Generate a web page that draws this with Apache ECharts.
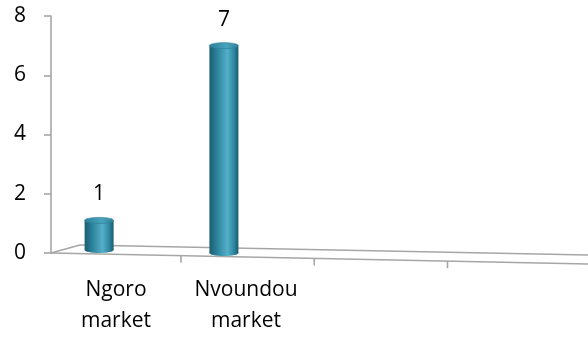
<!DOCTYPE html>
<html><head><meta charset="utf-8">
<script src="https://cdn.jsdelivr.net/npm/echarts@6/dist/echarts.min.js"></script>
<style>html,body{margin:0;padding:0;background:#fff}#c{width:588px;height:338px}</style>
</head><body><div id="c"></div>
<script>
const categories = ['Ngoro\nmarket', 'Nvoundou\nmarket', '', ''];
const values = [1, 7, null, null];
const yTicks = [0, 2, 4, 6, 8];

const FONT = '"Open Sans", "Noto Sans", sans-serif';
const chart = echarts.init(document.getElementById('c'), null, {renderer: 'canvas'});

function cylinder(params, api) {
  const v = api.value(1);
  if (v == null || isNaN(v)) return;
  const idx = api.value(0);
  const band = api.size([1, 0])[0];
  const top = api.coord([idx, v]);
  const base = api.coord([idx, 0]);
  const cx = top[0] - band * (idx === 0 ? 0.13 : 0.17);
  const bw = 29, ry = 3;
  const lift = idx === 0 ? 3 : 0;
  const baseY = base[1] - lift;
  const topY = top[1] - lift;
  const grad = new echarts.graphic.LinearGradient(0, 0, 1, 0, [
    {offset: 0, color: '#1a5d70'},
    {offset: 0.25, color: '#2a8099'},
    {offset: 0.62, color: '#55afc8'},
    {offset: 0.85, color: '#2e86a0'},
    {offset: 1, color: '#1a5b6e'}
  ]);
  return {
    type: 'group',
    children: [
      {type: 'ellipse', shape: {cx: cx, cy: baseY, rx: bw / 2, ry: ry}, style: {fill: grad}},
      {type: 'rect', shape: {x: cx - bw / 2, y: topY, width: bw, height: baseY - topY}, style: {fill: grad}},
      {type: 'ellipse', shape: {cx: cx, cy: topY, rx: bw / 2, ry: ry},
        style: {fill: new echarts.graphic.LinearGradient(0, 0, 1, 0, [
          {offset: 0, color: '#2a7f97'}, {offset: 0.6, color: '#4aa3bc'}, {offset: 1, color: '#2d8199'}]),
          stroke: '#2b7c93', lineWidth: 0.6}},
      {type: 'text', style: {text: String(v), x: cx, y: topY - 26, align: 'center', verticalAlign: 'middle',
        font: '21px ' + FONT, fill: '#000'}}
    ]
  };
}

function floor(params, api) {
  const cs = params.coordSys;
  const band = api.size([1, 0])[0];
  const o = api.coord([0, 0]);
  const x0 = cs.x, y0 = o[1], x1 = chart.getWidth();
  const slope = 11 / 536, backSlope = 10 / 508;
  const frontY = x => y0 + (x - x0) * slope;
  const bx0 = x0 + 29, by0 = y0 - 8;
  const backY = x => by0 + (x - bx0) * backSlope;
  const stroke = {stroke: '#a6a6a6', lineWidth: 1.6};
  const children = [
    {type: 'line', shape: {x1: x0, y1: y0, x2: x1, y2: frontY(x1)}, style: stroke},
    {type: 'line', shape: {x1: bx0, y1: by0, x2: x1, y2: backY(x1)}, style: stroke},
    {type: 'line', shape: {x1: x0, y1: y0, x2: bx0, y2: by0}, style: stroke}
  ];
  for (let i = 0; i < categories.length - 1; i++) {
    const c = api.coord([i, 0])[0] + band / 2 * (1 + i * 0.05);
    children.push({type: 'line', shape: {x1: c, y1: frontY(c), x2: c, y2: frontY(c) + 7}, style: stroke});
  }
  return {type: 'group', children: children, silent: true};
}

chart.setOption({
  animation: false,
  grid: {left: 51, right: 17, top: 16, bottom: 85, containLabel: false},
  xAxis: {
    type: 'category', data: categories,
    axisLine: {show: false}, axisTick: {show: false},
    axisLabel: {interval: 0, margin: 22, color: '#000', fontSize: 21, fontFamily: FONT, lineHeight: 31}
  },
  yAxis: {
    type: 'value', min: yTicks[0], max: yTicks[yTicks.length - 1], interval: 2,
    splitLine: {show: false},
    axisLine: {show: true, lineStyle: {color: '#a6a6a6', width: 1.6}},
    axisTick: {show: true, length: 7, lineStyle: {color: '#a6a6a6', width: 1.6}},
    axisLabel: {margin: 25, color: '#000', fontSize: 21, fontFamily: FONT}
  },
  series: [
    {type: 'custom', renderItem: floor, data: [[0, 0]], z: 1, silent: true, clip: false},
    {type: 'custom', renderItem: cylinder, data: values.map((v, i) => [i, v]), z: 2, clip: false}
  ]
});
</script></body></html>
